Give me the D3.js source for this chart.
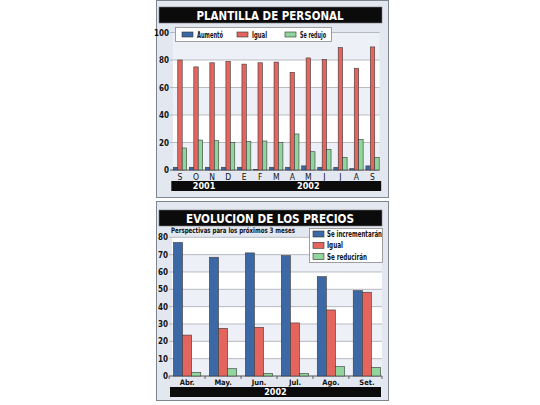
<!DOCTYPE html>
<html>
<head>
  <meta charset="UTF-8">
  <title>Plantilla de personal / Evolucion de los precios</title>
  <script src="https://cdn.jsdelivr.net/npm/d3@7"></script>
  <style>
    body { margin: 0; background: #fff; }
    svg text { font-family: "DejaVu Sans Condensed", "DejaVu Sans", sans-serif; }
  </style>
</head>
<body>
<script>
// --- data: plantilla de personal ---
var months1 = ['S', 'O', 'N', 'D', 'E', 'F', 'M', 'A', 'M', 'J', 'J', 'A', 'S'];
var years1 = [{ label: '2001', from: 0, to: 3 }, { label: '2002', from: 4, to: 12 }];
var series1 = ['Aumentó', 'Igual', 'Se redujo'];
var aumento = [2, 2, 2, 2, 2, 0.5, 2, 2, 3, 2, 2, 1, 3];
var igual1 = [80, 75, 78, 79, 77, 78, 78.5, 71, 81.5, 80.5, 89, 74, 89.5];
var redujo = [16, 21.8, 21.3, 20.1, 20.8, 21.1, 19.9, 26.2, 13.3, 15, 9.2, 22.3, 9.2];
var ticks1 = [0, 20, 40, 60, 80, 100];

// --- data: evolucion de los precios ---
var months2 = ['Abr.', 'May.', 'Jun.', 'Jul.', 'Ago.', 'Set.'];
var series2 = ['Se incrementarán', 'Igual', 'Se reducirán'];
var incrementaran = [77, 68.5, 71, 69.4, 57.3, 49.2];
var igual2 = [23.6, 27.5, 28.1, 30.6, 38.1, 48.3];
var reduciran = [2.1, 4.2, 1.5, 1.5, 5.4, 5];
var ticks2 = [0, 10, 20, 30, 40, 50, 60, 70, 80];

var colors = ['#3c68a6', '#e4645e', '#8fd59c'];

var svg = d3.select('body').append('svg')
    .attr('width', 540)
    .attr('height', 405);

// squeeze a label into the width it has in the picture
function fit(sel, w) {
  return sel.attr('textLength', w).attr('lengthAdjust', 'spacingAndGlyphs');
}

function panel(y0, h, title, ty, tw) {
  svg.append('rect')
      .attr('x', 156.5).attr('y', y0 + 0.5)
      .attr('width', 232).attr('height', h)
      .attr('fill', '#e3e7ef')
      .attr('stroke', '#7d8590');
  svg.append('rect')
      .attr('x', 159).attr('y', ty)
      .attr('width', 223).attr('height', 16)
      .attr('fill', '#0b0b0b')
      .attr('stroke', '#777').attr('stroke-width', 0.6);
  fit(svg.append('text')
      .attr('x', 270 - tw / 2).attr('y', ty + 13)
      .attr('fill', '#fff')
      .attr('font-size', 13)
      .attr('font-weight', 'bold')
      .text(title), tw);
}

function drawChart(opt) {
  var g = svg.append('g');
  var y = d3.scaleLinear().domain(opt.ydom).range(opt.yrange);
  var x = d3.scaleBand().domain(d3.range(opt.cats.length))
      .range(opt.xrange).paddingInner(opt.padIn).paddingOuter(opt.padOut);
  var xs = d3.scaleBand().domain(d3.range(opt.values.length)).range([0, x.bandwidth()]);

  // alternating bands
  var step = opt.bandStep;
  d3.range(opt.ydom[0], opt.ydom[1], step).forEach(function (v, i) {
    g.append('rect')
        .attr('x', opt.xrange[0]).attr('y', y(v + step))
        .attr('width', opt.xrange[1] - opt.xrange[0])
        .attr('height', y(v) - y(v + step))
        .attr('fill', i % 2 === 0 ? '#edf0f6' : '#ffffff');
  });

  // grid + y labels
  opt.ticks.forEach(function (t) {
    g.append('line')
        .attr('x1', opt.xrange[0] - 3).attr('x2', opt.xrange[1])
        .attr('y1', y(t)).attr('y2', y(t))
        .attr('stroke', t === 0 ? '#555' : '#a8acb4')
        .attr('stroke-width', t === 0 ? 1.2 : 0.8);
    g.append('text')
        .attr('x', opt.xrange[0] - 4).attr('y', y(t) + 3)
        .attr('text-anchor', 'end')
        .attr('font-size', 8).attr('font-weight', 'bold')
        .attr('fill', '#111')
        .text(t);
  });

  // bars
  opt.values.forEach(function (vals, s) {
    g.selectAll(null).data(vals).enter().append('rect')
        .attr('x', function (d, i) { return x(i) + xs(s); })
        .attr('y', function (d) { return y(d); })
        .attr('width', xs.bandwidth())
        .attr('height', function (d) { return y(0) - y(d); })
        .attr('fill', colors[s])
        .attr('stroke', '#3a3a3a')
        .attr('stroke-width', 0.6);
  });

  // category ticks + labels
  if (opt.catTicks) {
    d3.range(opt.cats.length + 1).forEach(function (i) {
      var px = i < opt.cats.length ? x(i) - x.step() * x.paddingInner() / 2 : opt.xrange[1];
      g.append('line')
          .attr('x1', px).attr('x2', px)
          .attr('y1', y(0)).attr('y2', y(0) + 3)
          .attr('stroke', '#444').attr('stroke-width', 0.8);
    });
  }
  g.selectAll(null).data(opt.cats).enter().append('text')
      .attr('x', function (d, i) { return x(i) + x.bandwidth() / 2; })
      .attr('y', y(0) + opt.catDy)
      .attr('text-anchor', 'middle')
      .attr('font-size', opt.catSize)
      .attr('font-weight', opt.catWeight)
      .attr('fill', '#111')
      .text(function (d) { return d; });

  // year bars
  opt.years.forEach(function (yr) {
    var x0 = x(yr.from) - 2, x1 = x(yr.to) + x.bandwidth() + 2;
    if (yr.x0 !== undefined) { x0 = yr.x0; x1 = yr.x1; }
    g.append('rect')
        .attr('x', x0).attr('y', opt.yearY)
        .attr('width', x1 - x0).attr('height', opt.yearH)
        .attr('fill', '#0b0b0b');
    g.append('text')
        .attr('x', (x0 + x1) / 2).attr('y', opt.yearY + opt.yearH - 2)
        .attr('text-anchor', 'middle')
        .attr('fill', '#fff')
        .attr('font-size', 9).attr('font-weight', 'bold')
        .text(yr.label);
  });
  return g;
}

// ---- top panel ----
panel(0, 197, 'PLANTILLA DE PERSONAL', 7, 147);
drawChart({
  cats: months1, values: [aumento, igual1, redujo],
  ydom: [0, 100], yrange: [170, 32.5], xrange: [173, 379.5],
  padIn: 0.17, padOut: 0.02, bandStep: 20, ticks: ticks1,
  catTicks: false, catDy: 10, catSize: 8.5, catWeight: 'normal',
  years: years1, yearY: 181, yearH: 10
});

// legend top
var lg1 = svg.append('g');
lg1.append('rect').attr('x', 175.5).attr('y', 27.5).attr('width', 156).attr('height', 14)
    .attr('fill', '#fff').attr('stroke', '#888').attr('stroke-width', 0.8);
var lx1 = [182, 237, 285];
var lw1 = [26, 15, 26];
series1.forEach(function (s, i) {
  lg1.append('rect').attr('x', lx1[i]).attr('y', 32).attr('width', 11).attr('height', 5)
      .attr('fill', colors[i]).attr('stroke', '#333').attr('stroke-width', 0.6);
  fit(lg1.append('text').attr('x', lx1[i] + 15).attr('y', 37.5)
      .attr('font-size', 8).attr('font-weight', 'bold').attr('fill', '#111')
      .text(s), lw1[i]);
});

// ---- bottom panel ----
panel(201, 199, 'EVOLUCION DE LOS PRECIOS', 210, 168);
fit(svg.append('text')
    .attr('x', 171).attr('y', 232.5)
    .attr('font-size', 7.5).attr('font-weight', 'bold').attr('fill', '#111')
    .text('Perspectivas para los próximos 3 meses'), 124);
drawChart({
  cats: months2, values: [incrementaran, igual2, reduciran],
  ydom: [0, 80], yrange: [376, 237.3], xrange: [172, 382],
  padIn: 0.24, padOut: 0.04, bandStep: 10, ticks: ticks2,
  catTicks: true, catDy: 9, catSize: 7.5, catWeight: 'bold',
  years: [{ label: '2002', from: 0, to: 5, x0: 170, x1: 381 }], yearY: 387, yearH: 10
});

// legend bottom
var lg2 = svg.append('g');
lg2.append('rect').attr('x', 309.5).attr('y', 228.5).attr('width', 73).attr('height', 34)
    .attr('fill', '#fff').attr('stroke', '#888').attr('stroke-width', 0.8);
var lw2 = [55, 16, 40];
series2.forEach(function (s, i) {
  var yy = 231 + i * 11.3;
  lg2.append('rect').attr('x', 313).attr('y', yy).attr('width', 11).attr('height', 6)
      .attr('fill', colors[i]).attr('stroke', '#333').attr('stroke-width', 0.6);
  fit(lg2.append('text').attr('x', 327).attr('y', yy + 6)
      .attr('font-size', 8).attr('font-weight', 'bold').attr('fill', '#111')
      .text(s), lw2[i]);
});
</script>
</body>
</html>
